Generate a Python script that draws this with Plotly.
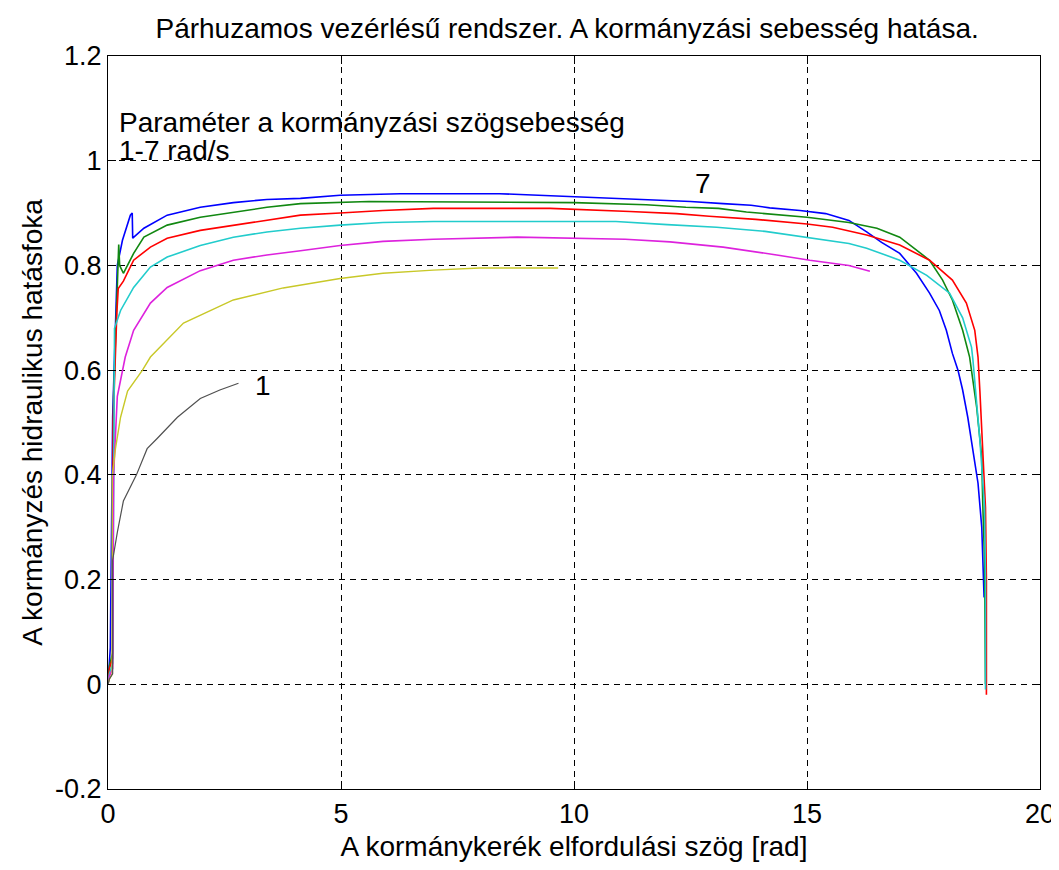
import plotly.graph_objects as go

# ---- data ----
x1 = [0, 0.03, 0.1, 0.1, 0.2, 0.33, 0.61, 0.84, 1.06, 1.49, 1.98, 2.4, 2.8]
y1 = [0, 0.01, 0.02, 0.237, 0.29, 0.35, 0.40, 0.45, 0.47, 0.51, 0.546, 0.562, 0.575]

x2 = [0, 0.03, 0.09, 0.09, 0.16, 0.27, 0.42, 0.74, 0.91, 1.27, 1.62, 2.69, 3.76, 4.98, 5.9, 6.98, 7.98, 9.66]
y2 = [0, 0.01, 0.02, 0.395, 0.45, 0.51, 0.56, 0.60, 0.625, 0.657, 0.69, 0.734, 0.757, 0.775, 0.785, 0.791, 0.795, 0.795]

x3 = [0, 0.03, 0.1, 0.12, 0.2, 0.37, 0.55, 0.91, 1.27, 1.98, 2.69, 3.41, 4.13, 4.98, 5.9, 6.98, 8.78, 11.1,
      12.06, 13.2, 14.35, 15.06, 15.9, 16.35]
y3 = [0, 0.015, 0.03, 0.40, 0.55, 0.625, 0.676, 0.728, 0.758, 0.79, 0.81, 0.82, 0.828, 0.838, 0.846, 0.85, 0.854,
      0.85, 0.845, 0.835, 0.82, 0.81, 0.80, 0.789]

x4 = [0, 0.03, 0.1, 0.12, 0.14, 0.27, 0.55, 0.91, 1.27, 1.98, 2.69, 3.41, 4.13, 4.98, 5.9, 6.98, 9.49, 10.9, 12.0,
      13.06, 14.1, 15.0, 15.9, 16.28, 16.99, 17.57, 18.06, 18.34, 18.53, 18.56, 18.71, 18.81, 18.83, 18.83]
y4 = [0, 0.02, 0.04, 0.53, 0.68, 0.714, 0.758, 0.797, 0.816, 0.838, 0.854, 0.864, 0.871, 0.877, 0.882, 0.884, 0.884,
      0.884, 0.878, 0.873, 0.865, 0.854, 0.842, 0.833, 0.81, 0.781, 0.747, 0.70, 0.644, 0.62, 0.466, 0.338, 0.2, -0.01]

x5 = [0, 0.03, 0.1, 0.11, 0.19, 0.22, 0.33, 0.55, 0.91, 1.27, 1.98, 2.69, 3.41, 4.13, 4.98, 5.9, 6.98, 9.49, 11.2,
      12.2, 12.9, 13.9, 15.0, 15.55, 16.28, 16.99, 17.63, 18.12, 18.42, 18.6, 18.67, 18.71, 18.83, 18.85, 18.85]
y5 = [0, 0.03, 0.05, 0.50, 0.71, 0.756, 0.77, 0.81, 0.835, 0.852, 0.867, 0.877, 0.886, 0.896, 0.9, 0.905, 0.909,
      0.909, 0.903, 0.899, 0.894, 0.888, 0.879, 0.873, 0.858, 0.839, 0.81, 0.772, 0.728, 0.676, 0.625, 0.56, 0.338,
      0.2, -0.02]

x6 = [0, 0.03, 0.1, 0.12, 0.23, 0.25, 0.33, 0.55, 0.77, 1.27, 1.98, 2.69, 3.41, 4.13, 5.6, 10.0, 11.55, 12.4, 13.1,
      13.7, 14.56, 15.0, 15.9, 16.5, 16.99, 17.35, 17.63, 17.91, 18.12, 18.34, 18.49, 18.64, 18.75, 18.77, 18.81, 18.83]
y6 = [0, 0.035, 0.06, 0.55, 0.84, 0.80, 0.785, 0.823, 0.854, 0.877, 0.892, 0.902, 0.911, 0.918, 0.922, 0.92, 0.916,
      0.911, 0.909, 0.902, 0.896, 0.892, 0.882, 0.871, 0.854, 0.829, 0.81, 0.772, 0.734, 0.676, 0.625, 0.53, 0.434,
      0.351, 0.237, 0.0]

x7 = [0, 0.03, 0.05, 0.1, 0.2, 0.31, 0.42, 0.48, 0.52, 0.53, 0.77, 0.99, 1.27, 1.98, 2.69, 3.41, 4.13, 4.98, 6.27,
      8.4, 10.45, 11.6, 12.5, 13.2, 13.8, 14.2, 14.85, 15.4, 15.9, 16.28, 16.6, 16.99, 17.35, 17.63, 17.84, 17.99,
      18.12, 18.24, 18.34, 18.45, 18.56, 18.67, 18.75, 18.8]
y7 = [0, 0.05, 0.07, 0.51, 0.80, 0.848, 0.88, 0.896, 0.9, 0.852, 0.871, 0.882, 0.896, 0.911, 0.92, 0.926, 0.928,
      0.934, 0.937, 0.937, 0.93, 0.926, 0.922, 0.918, 0.915, 0.91, 0.905, 0.899, 0.886, 0.864, 0.844, 0.823, 0.785,
      0.747, 0.714, 0.676, 0.632, 0.60, 0.562, 0.51, 0.447, 0.384, 0.30, 0.166]

x_ticks = [0, 5, 10, 15, 20]
x_ticktext = ["0", "5", "10", "15", "20"]
y_ticks = [-0.2, 0, 0.2, 0.4, 0.6, 0.8, 1.0, 1.2]
y_ticktext = ["-0.2", "0", "0.2", "0.4", "0.6", "0.8", "1", "1.2"]

title_text = "Párhuzamos vezérlésű rendszer. A kormányzási sebesség hatása."
x_title = "A kormánykerék elfordulási szög [rad]"
y_title = "A kormányzés hidraulikus hatásfoka"
note_lines = ["Paraméter a kormányzási szögsebesség", "1-7 rad/s"]

FONT = "Arial, Liberation Sans, sans-serif"
FS = 28
TFS = 27

series = [
    (x7, y7, "#0000ff", 1.6),
    (x6, y6, "#118811", 1.6),
    (x5, y5, "#ff0000", 1.6),
    (x4, y4, "#22cccc", 1.6),
    (x3, y3, "#dd22dd", 1.6),
    (x2, y2, "#c8c828", 1.4),
    (x1, y1, "#505050", 1.2),
]

fig = go.Figure()
for xs, ys, col, w in series:
    fig.add_trace(go.Scatter(x=xs, y=ys, mode="lines", line=dict(color=col, width=w),
                             showlegend=False, hoverinfo="skip"))

fig.add_annotation(x=0.2, y=1.073, text=note_lines[0], showarrow=False, xanchor="left", yanchor="middle",
                   font=dict(family=FONT, size=FS, color="black"))
fig.add_annotation(x=0.2, y=1.02, text=note_lines[1], showarrow=False, xanchor="left", yanchor="middle",
                   font=dict(family=FONT, size=FS, color="black"))
fig.add_annotation(x=12.76, y=0.957, text="7", showarrow=False, xanchor="center", yanchor="middle",
                   font=dict(family=FONT, size=FS, color="black"))
fig.add_annotation(x=3.33, y=0.571, text="1", showarrow=False, xanchor="center", yanchor="middle",
                   font=dict(family=FONT, size=FS, color="black"))

axis_common = dict(showline=True, linecolor="black", linewidth=1.2, mirror="ticks",
                   ticks="inside", ticklen=8, tickcolor="black", tickwidth=1,
                   showgrid=True, gridcolor="black", gridwidth=1, griddash="6px,5px",
                   zeroline=False, automargin=False,
                   tickfont=dict(family=FONT, size=TFS, color="black"))

fig.update_layout(
    width=1051, height=854,
    paper_bgcolor="white", plot_bgcolor="white",
    margin=dict(l=100, r=19, t=48, b=73),
    title=dict(text=title_text, x=0.532, xanchor="center", y=0.9766, yanchor="middle",
               font=dict(family=FONT, size=FS, color="black")),
    xaxis=dict(range=[0, 20], tickvals=x_ticks, ticktext=x_ticktext,
               title=dict(text=x_title, standoff=9, font=dict(family=FONT, size=FS, color="black")),
               **axis_common),
    yaxis=dict(range=[-0.2, 1.2], tickvals=y_ticks, ticktext=y_ticktext,
               title=dict(text=y_title, standoff=4, font=dict(family=FONT, size=FS, color="black")),
               **axis_common),
)

fig.write_html("out.html")
